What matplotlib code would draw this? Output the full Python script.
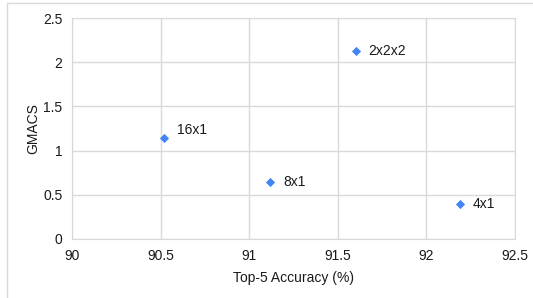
import matplotlib.pyplot as plt
from matplotlib.patches import Rectangle

plt.rcParams['font.family'] = ['Liberation Sans', 'DejaVu Sans']

labels = ["16x1", "2x2x2", "8x1", "4x1"]
accuracy = [90.52, 91.6, 91.12, 92.19]
gmacs = [1.14, 2.13, 0.64, 0.40]
# label offsets (points) relative to each marker
label_dy = [6, 0, 0, 0]

fig = plt.figure(figsize=(5.33, 2.98), dpi=100)
ax = fig.add_axes([72 / 533, 1 - 239 / 298, (515 - 72) / 533, (239 - 18) / 298])

# outer chart border (only top and left edges are in view)
fig.patches.append(Rectangle((6.5 / 533, -10 / 298), 540 / 533, 304.5 / 298, transform=fig.transFigure,
                             fill=False, edgecolor="#d9d9d9", linewidth=1))

ax.scatter(accuracy, gmacs, marker="D", s=22, color="#4285F4", zorder=3, linewidths=0)
for x, y, t, dy in zip(accuracy, gmacs, labels, label_dy):
    ax.annotate(t, (x, y), xytext=(9, dy), textcoords="offset points", va="center",
                fontsize=10, color="#1a1a1a")

ax.set_xlim(90, 92.5)
ax.set_ylim(0, 2.5)
ax.set_xticks([90, 90.5, 91, 91.5, 92, 92.5])
ax.set_xticklabels(["90", "90.5", "91", "91.5", "92", "92.5"])
ax.set_yticks([0, 0.5, 1, 1.5, 2, 2.5])
ax.set_yticklabels(["0", "0.5", "1", "1.5", "2", "2.5"])
ax.grid(True, color="#d9d9d9", linewidth=1)
ax.set_axisbelow(True)
for s in ax.spines.values():
    s.set_color("#d9d9d9")
ax.tick_params(length=0, labelsize=10, labelcolor="#1a1a1a", pad=7)
ax.set_xlabel("Top-5 Accuracy (%)", fontsize=10, color="#1a1a1a", labelpad=6)
ax.set_ylabel("GMACS", fontsize=10, color="#1a1a1a", labelpad=2)

fig.savefig("out.png", dpi=100)
